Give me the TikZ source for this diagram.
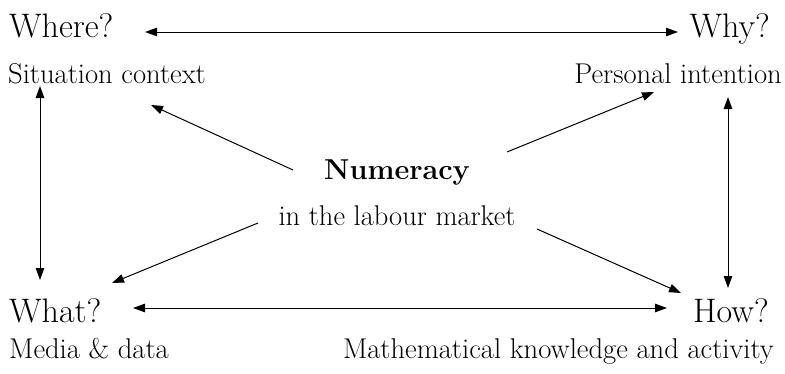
\documentclass[tikz,border=0pt]{standalone}
\usepackage{fontspec}
\usetikzlibrary{arrows.meta}
\tikzset{
  big/.style={inner sep=0pt, font=\fontsize{34}{38}\selectfont},
  sub/.style={inner sep=0pt, font=\fontsize{28.6}{32}\selectfont},
  centre/.style={inner sep=0pt, font=\fontsize{28.5}{32}\selectfont},
  conn/.style={line width=1pt, -{Triangle[length=12pt,width=8.5pt]}},
  dconn/.style={line width=1pt, {Triangle[length=12pt,width=8.5pt]}-{Triangle[length=12pt,width=8.5pt]}}
}
\begin{document}
\begin{tikzpicture}[x=1pt,y=-1pt]
\useasboundingbox (0,0) rectangle (785,373);
% labels
\node[big, anchor=base west] (where) at (9,37) {Where?};
\node[big, anchor=base east] (why) at (770,37) {Why?};
\node[sub, anchor=base west] (sit) at (8,83) {Situation context};
\node[sub, anchor=base east] (pers) at (782,83) {Personal intention};
\node[centre, anchor=base, font=\fontsize{28.8}{32}\selectfont\bfseries] (num) at (397,179) {Numeracy};
\node[centre, anchor=base] (lab) at (397,225) {in the labour market};
\node[big, anchor=base west] (what) at (9,322) {What?};
\node[big, anchor=base east] (how) at (769,322) {How?};
\node[sub, anchor=base west] (media) at (9,358) {Media \& data};
\node[sub, anchor=base east] (math) at (774,358) {Mathematical knowledge and activity};
% connector ends
\coordinate (tl) at (145,32);
\coordinate (tr) at (678,32);
\coordinate (bl) at (133,308);
\coordinate (br) at (667,308);
\coordinate (lt) at (40,86);
\coordinate (lb) at (40,280);
\coordinate (rt) at (728,97);
\coordinate (rb) at (728,288);
\coordinate (ulS) at (293,170);
\coordinate (ulE) at (151,105);
\coordinate (urS) at (507,152);
\coordinate (urE) at (654,92);
\coordinate (dlS) at (258,223);
\coordinate (dlE) at (112,283);
\coordinate (drS) at (537,229);
\coordinate (drE) at (681,293);
% connectors
\draw[dconn] (tl) -- (tr);
\draw[dconn] (bl) -- (br);
\draw[dconn] (lt) -- (lb);
\draw[dconn] (rt) -- (rb);
\draw[conn] (ulS) -- (ulE);
\draw[conn] (urS) -- (urE);
\draw[conn] (dlS) -- (dlE);
\draw[conn] (drS) -- (drE);
\end{tikzpicture}
\end{document}
